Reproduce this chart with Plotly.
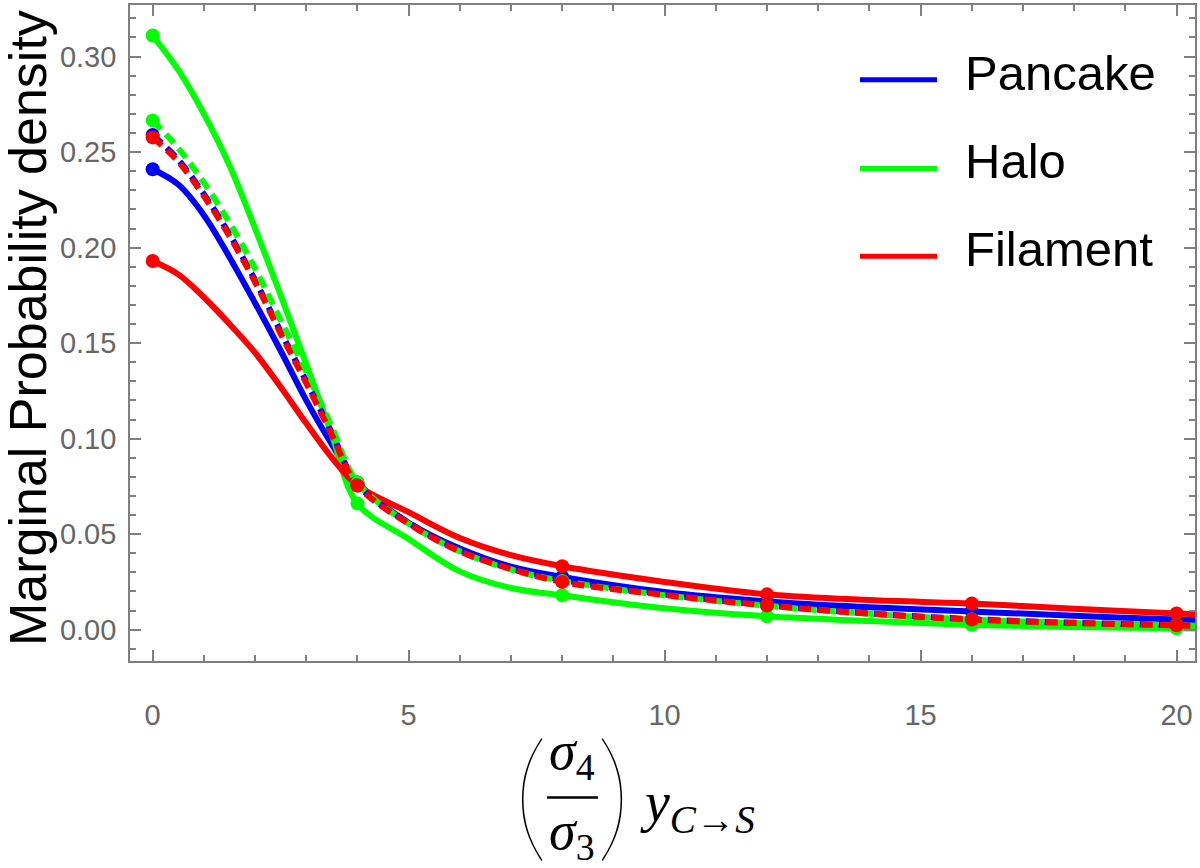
import plotly.graph_objects as go

# ---------------- data ----------------
x_curve = [0, 0.5, 1, 1.5, 2, 2.5, 3, 3.5, 4, 5, 6, 7, 8, 10, 12, 14, 16, 18, 20, 20.4]
marker_x = [0, 4, 8, 12, 16, 20]

pancake_solid = [0.241, 0.233, 0.217, 0.195, 0.171, 0.146, 0.120, 0.097, 0.077,
                 0.056, 0.0425, 0.033, 0.0276, 0.0197, 0.0148, 0.0118, 0.0095, 0.0073, 0.0053, 0.0050]
halo_solid = [0.311, 0.293, 0.270, 0.243, 0.210, 0.175, 0.139, 0.102, 0.066,
              0.0475, 0.0305, 0.0218, 0.018, 0.0112, 0.0070, 0.0045, 0.0025, 0.0014, 0.0007, 0.0006]
filament_solid = [0.193, 0.186, 0.174, 0.160, 0.145, 0.127, 0.108, 0.090, 0.0755,
                  0.0615, 0.048, 0.039, 0.0332, 0.025, 0.0185, 0.0155, 0.0137, 0.011, 0.0085, 0.0080]

pancake_dashed = [0.259, 0.246, 0.228, 0.207, 0.183, 0.156, 0.130, 0.103, 0.076,
                  0.056, 0.0415, 0.032, 0.026, 0.0185, 0.0128, 0.0085, 0.0055, 0.0036, 0.0024, 0.0021]
halo_dashed = [0.2666, 0.252, 0.234, 0.213, 0.189, 0.162, 0.135, 0.106, 0.077,
               0.0555, 0.041, 0.0315, 0.0255, 0.018, 0.0125, 0.0083, 0.0053, 0.0035, 0.0023, 0.0020]
filament_dashed = [0.2577, 0.245, 0.227, 0.206, 0.182, 0.155, 0.129, 0.102, 0.0755,
                   0.0555, 0.041, 0.0318, 0.025, 0.0182, 0.0127, 0.0084, 0.0053, 0.0035, 0.0023, 0.0020]

legend_names = ["Pancake", "Halo", "Filament"]
colors = {"Pancake": "#0000FF", "Halo": "#00FF00", "Filament": "#FF0000"}

x_ticks = [0, 5, 10, 15, 20]
y_ticks = [0.00, 0.05, 0.10, 0.15, 0.20, 0.25, 0.30]

# ---------------- figure ----------------
fig = go.Figure()

def add_curve(ys, color, dash):
    fig.add_trace(go.Scatter(
        x=x_curve, y=ys, mode="lines",
        line=dict(color=color, width=6, dash=dash, shape="spline", smoothing=1.0),
        showlegend=False, hoverinfo="skip"))
    mx = [x for x in x_curve if x in marker_x]
    my = [y for x, y in zip(x_curve, ys) if x in marker_x]
    fig.add_trace(go.Scatter(
        x=mx, y=my, mode="markers",
        marker=dict(color=color, size=14, line=dict(width=0)),
        showlegend=False, hoverinfo="skip"))

add_curve(pancake_solid, colors["Pancake"], "solid")
add_curve(halo_solid, colors["Halo"], "solid")
add_curve(filament_solid, colors["Filament"], "solid")
add_curve(pancake_dashed, colors["Pancake"], "12px,7px")
add_curve(halo_dashed, colors["Halo"], "12px,7px")
add_curve(filament_dashed, colors["Filament"], "12px,7px")

W, H = 1200, 868
ml, mr, mt, mb = 130, 5, 3, 207
pw, ph = W - ml - mr, H - mt - mb

def px(x):
    return (x - ml) / pw

def py(y):
    return 1 - (y - mt) / ph

frame = "#7f7f7f"
axis_common = dict(showline=True, linecolor=frame, linewidth=1.6, mirror="allticks",
                   ticks="inside", tickcolor=frame, tickwidth=1.6, ticklen=11,
                   showgrid=False, zeroline=False,
                   tickfont=dict(family="Liberation Sans, Arial", size=29, color="#666666"))

fig.update_layout(
    width=W, height=H,
    margin=dict(l=ml, r=mr, t=mt, b=mb),
    paper_bgcolor="white", plot_bgcolor="white",
    xaxis=dict(range=[-0.443, 20.36], tickvals=x_ticks, ticktext=[str(v) for v in x_ticks],
               minor=dict(dtick=1, tick0=0, ticks="inside", ticklen=6, tickcolor=frame, tickwidth=1.6),
               ticklabelstandoff=27, **axis_common),
    yaxis=dict(range=[-0.0164, 0.327], tickvals=y_ticks, ticktext=[f"{v:.2f}" for v in y_ticks],
               minor=dict(dtick=0.01, tick0=0, ticks="inside", ticklen=6, tickcolor=frame, tickwidth=1.6),
               ticklabelstandoff=6, **axis_common),
    showlegend=False,
)

# custom legend (long line swatches as in the original)
legend_line_y = [78, 167, 255]
legend_text_y = [71, 159, 248]
for name, ly, ty in zip(legend_names, legend_line_y, legend_text_y):
    fig.add_shape(type="line", xref="paper", yref="paper",
                  x0=px(860), x1=px(937), y0=py(ly), y1=py(ly),
                  line=dict(color=colors[name], width=5))
    fig.add_annotation(text=name, xref="paper", yref="paper", x=px(963), y=py(ty),
                       xanchor="left", yanchor="middle", showarrow=False,
                       font=dict(family="Liberation Sans, Arial", size=49, color="black"))

# y-axis title
fig.add_annotation(text="Marginal Probability density", xref="paper", yref="paper",
                   x=px(28), y=py(327), textangle=-90, showarrow=False,
                   xanchor="center", yanchor="middle",
                   font=dict(family="Liberation Sans Narrow, Liberation Sans, Arial", size=52, color="black"))

# x-axis title: (σ4/σ3) y_{C→S}
serif = "Liberation Serif, DejaVu Serif, serif"
def txt(t, x, y, size, xanchor="center", family=serif, weight=None):
    f = dict(family=family, size=size, color="black")
    if weight is not None:
        f["weight"] = weight
    fig.add_annotation(text=t, xref="paper", yref="paper", x=px(x), y=py(y),
                       xanchor=xanchor, yanchor="middle", showarrow=False, font=f)

txt("(", 530, 790, 140, family="Lato, DejaVu Sans", weight=200)
txt(")", 613, 790, 140, family="Lato, DejaVu Sans", weight=200)
txt("<i>σ</i><sub>4</sub>", 572, 755, 54)
txt("<i>σ</i><sub>3</sub>", 572, 835, 54)
fig.add_shape(type="line", xref="paper", yref="paper", x0=px(547), x1=px(598),
              y0=py(798), y1=py(798), line=dict(color="black", width=2.5))
txt("<i>y</i><sub><i>C</i>→<i>S</i></sub>", 638, 806, 56, xanchor="left")

fig.write_html("out.html")
